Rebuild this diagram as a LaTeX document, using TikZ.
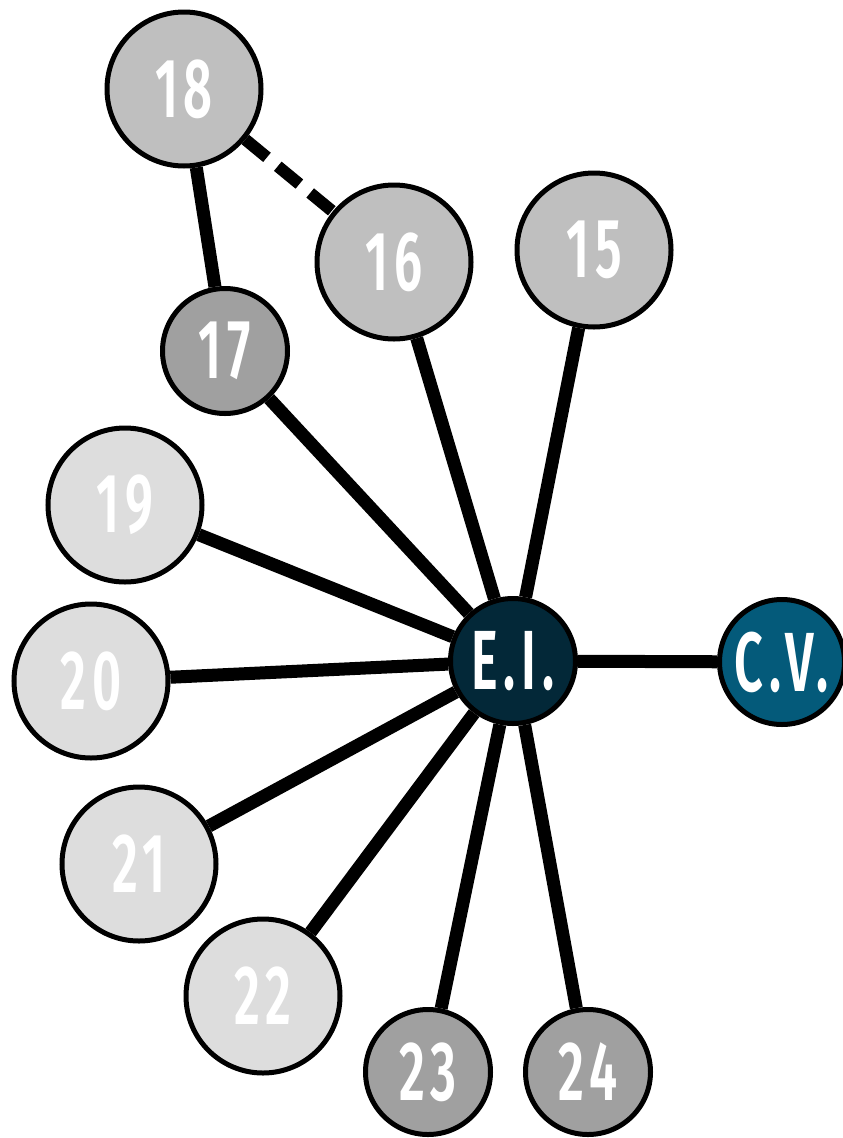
\documentclass[tikz,border=0pt]{standalone}
\usepackage{fontspec}
\setmainfont{Fira Sans}[FakeStretch=0.6,LetterSpace=7,UprightFont=* SemiBold]
\usepackage{xcolor}
\usepackage{tikz}
\definecolor{netpale}{HTML}{DDDDDD}
\definecolor{netgrey}{HTML}{BFBFBF}
\definecolor{netdark}{HTML}{A0A0A0}
\definecolor{netnavy}{HTML}{032838}
\definecolor{netteal}{HTML}{045A7A}
\begin{document}
\begin{tikzpicture}[
  x=1pt,y=-1pt,
  base/.style={circle,draw=black,line width=5pt,text=white,inner sep=0pt,font=\fontsize{84}{84}\selectfont},
  big/.style={base,minimum size=154pt},
  small/.style={base,minimum size=125pt},
  pale/.style={big,fill=netpale},
  grey/.style={big,fill=netgrey},
  dark/.style={small,fill=netdark},
  hub/.style={small,fill=netnavy},
  far/.style={small,fill=netteal},
  link/.style={line width=13pt,draw=black},
  weak/.style={link,line width=12pt,dash pattern=on 28pt off 14pt}
]
\useasboundingbox (0,0) rectangle (843,1138);
\node[grey] (n18) at (184,89) {18};
\node[grey] (n16) at (394,262) {16};
\node[grey] (n15) at (594,250) {15};
\node[dark] (n17) at (225,351) {17};
\node[pale] (n19) at (125,505) {19};
\node[pale] (n20) at (91,681) {20};
\node[pale] (n21) at (139,864) {21};
\node[pale] (n22) at (263,996) {22};
\node[dark] (n23) at (428,1072) {23};
\node[dark] (n24) at (588,1072) {24};
\node[hub] (ei) at (513,661) {E.I.};
\node[far] (cv) at (782,662) {C.V.};

\draw[weak] (n18) -- (n16);
\draw[link] (n18) -- (n17);
\foreach \leaf in {n15,n16,n17,n19,n20,n21,n22,n23,n24}
  \draw[link] (ei) -- (\leaf);
\draw[link] (ei) -- (cv);
\end{tikzpicture}
\end{document}
